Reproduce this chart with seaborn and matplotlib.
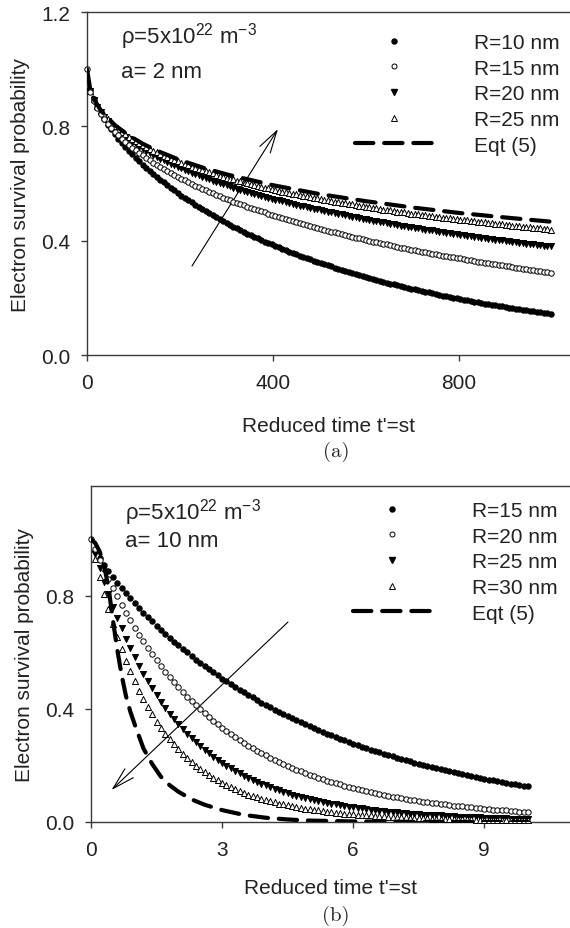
import numpy as np
import matplotlib
matplotlib.use("Agg")
import matplotlib.pyplot as plt
import seaborn as sns
from matplotlib.lines import Line2D

# ---------------- data : panel (a) ----------------
t_a = np.arange(134) * 7.5
R10_a = [1.0, 0.928, 0.895, 0.868, 0.846, 0.825, 0.806, 0.789, 0.773, 0.757,
         0.742, 0.728, 0.715, 0.702, 0.690, 0.678, 0.666, 0.655, 0.644, 0.634,
         0.623, 0.613, 0.604, 0.594, 0.585, 0.576, 0.567, 0.558, 0.550, 0.542,
         0.534, 0.526, 0.518, 0.511, 0.503, 0.496, 0.489, 0.482, 0.475, 0.469,
         0.462, 0.456, 0.449, 0.443, 0.437, 0.431, 0.425, 0.419, 0.414, 0.408,
         0.403, 0.397, 0.392, 0.387, 0.382, 0.377, 0.372, 0.367, 0.362, 0.357,
         0.353, 0.348, 0.343, 0.339, 0.335, 0.330, 0.326, 0.322, 0.318, 0.314,
         0.310, 0.306, 0.302, 0.298, 0.294, 0.291, 0.287, 0.283, 0.280, 0.276,
         0.273, 0.270, 0.266, 0.263, 0.260, 0.256, 0.253, 0.250, 0.247, 0.244,
         0.241, 0.238, 0.235, 0.232, 0.230, 0.227, 0.224, 0.221, 0.219, 0.216,
         0.213, 0.211, 0.208, 0.206, 0.203, 0.201, 0.198, 0.196, 0.194, 0.191,
         0.189, 0.187, 0.185, 0.182, 0.180, 0.178, 0.176, 0.174, 0.172, 0.170,
         0.168, 0.166, 0.164, 0.162, 0.160, 0.158, 0.156, 0.155, 0.153, 0.151,
         0.149, 0.147, 0.146, 0.144]
R15_a = [1.0, 0.920, 0.888, 0.864, 0.843, 0.825, 0.809, 0.795, 0.781, 0.769,
         0.757, 0.746, 0.735, 0.725, 0.716, 0.706, 0.698, 0.689, 0.681, 0.673,
         0.665, 0.658, 0.651, 0.644, 0.637, 0.630, 0.624, 0.617, 0.611, 0.605,
         0.599, 0.593, 0.588, 0.582, 0.577, 0.572, 0.566, 0.561, 0.556, 0.551,
         0.547, 0.542, 0.537, 0.533, 0.528, 0.524, 0.519, 0.515, 0.511, 0.507,
         0.503, 0.499, 0.495, 0.491, 0.487, 0.483, 0.479, 0.476, 0.472, 0.468,
         0.465, 0.461, 0.458, 0.455, 0.451, 0.448, 0.445, 0.441, 0.438, 0.435,
         0.432, 0.429, 0.426, 0.423, 0.420, 0.417, 0.414, 0.411, 0.408, 0.405,
         0.403, 0.400, 0.397, 0.395, 0.392, 0.389, 0.387, 0.384, 0.382, 0.379,
         0.376, 0.374, 0.372, 0.369, 0.367, 0.364, 0.362, 0.360, 0.357, 0.355,
         0.353, 0.351, 0.348, 0.346, 0.344, 0.342, 0.340, 0.338, 0.335, 0.333,
         0.331, 0.329, 0.327, 0.325, 0.323, 0.321, 0.319, 0.317, 0.315, 0.314,
         0.312, 0.310, 0.308, 0.306, 0.304, 0.302, 0.301, 0.299, 0.297, 0.295,
         0.294, 0.292, 0.290, 0.288]
R20_a = [1.0, 0.922, 0.892, 0.869, 0.850, 0.834, 0.819, 0.806, 0.794, 0.783,
         0.773, 0.763, 0.754, 0.745, 0.737, 0.729, 0.721, 0.714, 0.707, 0.700,
         0.693, 0.687, 0.681, 0.675, 0.669, 0.663, 0.658, 0.653, 0.647, 0.642,
         0.637, 0.633, 0.628, 0.623, 0.619, 0.614, 0.610, 0.606, 0.602, 0.598,
         0.594, 0.590, 0.586, 0.582, 0.578, 0.575, 0.571, 0.568, 0.564, 0.561,
         0.557, 0.554, 0.551, 0.547, 0.544, 0.541, 0.538, 0.535, 0.532, 0.529,
         0.526, 0.523, 0.520, 0.518, 0.515, 0.512, 0.510, 0.507, 0.504, 0.502,
         0.499, 0.497, 0.494, 0.492, 0.489, 0.487, 0.484, 0.482, 0.480, 0.477,
         0.475, 0.473, 0.470, 0.468, 0.466, 0.464, 0.462, 0.460, 0.457, 0.455,
         0.453, 0.451, 0.449, 0.447, 0.445, 0.443, 0.441, 0.439, 0.437, 0.436,
         0.434, 0.432, 0.430, 0.428, 0.426, 0.424, 0.423, 0.421, 0.419, 0.417,
         0.416, 0.414, 0.412, 0.411, 0.409, 0.407, 0.406, 0.404, 0.402, 0.401,
         0.399, 0.398, 0.396, 0.394, 0.393, 0.391, 0.390, 0.388, 0.387, 0.385,
         0.384, 0.382, 0.381, 0.380]
R25_a = [1.0, 0.923, 0.894, 0.872, 0.854, 0.838, 0.825, 0.813, 0.801, 0.791,
         0.781, 0.772, 0.764, 0.756, 0.748, 0.741, 0.734, 0.727, 0.721, 0.715,
         0.709, 0.703, 0.697, 0.692, 0.687, 0.682, 0.677, 0.672, 0.668, 0.663,
         0.659, 0.655, 0.650, 0.646, 0.642, 0.639, 0.635, 0.631, 0.627, 0.624,
         0.620, 0.617, 0.614, 0.610, 0.607, 0.604, 0.601, 0.598, 0.595, 0.592,
         0.589, 0.586, 0.583, 0.580, 0.578, 0.575, 0.572, 0.570, 0.567, 0.565,
         0.562, 0.560, 0.557, 0.555, 0.553, 0.550, 0.548, 0.546, 0.543, 0.541,
         0.539, 0.537, 0.535, 0.533, 0.531, 0.529, 0.527, 0.525, 0.523, 0.521,
         0.519, 0.517, 0.515, 0.513, 0.511, 0.509, 0.508, 0.506, 0.504, 0.502,
         0.501, 0.499, 0.497, 0.495, 0.494, 0.492, 0.491, 0.489, 0.487, 0.486,
         0.484, 0.483, 0.481, 0.480, 0.478, 0.477, 0.475, 0.474, 0.472, 0.471,
         0.469, 0.468, 0.466, 0.465, 0.464, 0.462, 0.461, 0.460, 0.458, 0.457,
         0.456, 0.454, 0.453, 0.452, 0.450, 0.449, 0.448, 0.447, 0.445, 0.444,
         0.443, 0.442, 0.441, 0.439]
tE_a = [0, 7.5, 15, 30, 60, 90, 120, 150, 200, 250, 300, 400, 500, 600, 700, 800, 900, 1000]
E_a = [1.0, 0.924, 0.895, 0.855, 0.804, 0.768, 0.739, 0.715, 0.682, 0.655,
       0.632, 0.594, 0.563, 0.538, 0.516, 0.497, 0.481, 0.466]
labels_a = ["R=10 nm", "R=15 nm", "R=20 nm", "R=25 nm", "Eqt (5)"]
xticks_a = [0, 400, 800]
yticks_a = [0.0, 0.4, 0.8, 1.2]
yticklabels_a = ["0.0", "0.4", "0.8", "1.2"]

# ---------------- data : panel (b) ----------------
t_b = np.arange(101) * 0.1
R15_b = [1.0, 0.959, 0.933, 0.909, 0.887, 0.866, 0.846, 0.827, 0.809, 0.791,
         0.773, 0.757, 0.740, 0.724, 0.709, 0.694, 0.679, 0.665, 0.651, 0.637,
         0.624, 0.611, 0.599, 0.586, 0.574, 0.562, 0.551, 0.540, 0.529, 0.518,
         0.507, 0.497, 0.487, 0.477, 0.467, 0.458, 0.449, 0.440, 0.431, 0.422,
         0.414, 0.406, 0.397, 0.389, 0.382, 0.374, 0.367, 0.359, 0.352, 0.345,
         0.338, 0.332, 0.325, 0.319, 0.312, 0.306, 0.300, 0.294, 0.288, 0.283,
         0.277, 0.272, 0.266, 0.261, 0.256, 0.251, 0.246, 0.241, 0.236, 0.232,
         0.227, 0.223, 0.218, 0.214, 0.210, 0.206, 0.202, 0.198, 0.194, 0.190,
         0.186, 0.183, 0.179, 0.176, 0.172, 0.169, 0.166, 0.162, 0.159, 0.156,
         0.153, 0.150, 0.147, 0.144, 0.142, 0.139, 0.136, 0.134, 0.131, 0.128,
         0.126]
R20_b = [1.0, 0.963, 0.927, 0.893, 0.860, 0.828, 0.797, 0.768, 0.740, 0.713,
         0.687, 0.662, 0.638, 0.615, 0.593, 0.571, 0.551, 0.531, 0.512, 0.494,
         0.476, 0.459, 0.443, 0.427, 0.412, 0.398, 0.384, 0.370, 0.357, 0.345,
         0.333, 0.322, 0.310, 0.300, 0.289, 0.279, 0.270, 0.261, 0.252, 0.243,
         0.235, 0.227, 0.219, 0.212, 0.205, 0.198, 0.192, 0.185, 0.179, 0.173,
         0.167, 0.162, 0.157, 0.151, 0.146, 0.142, 0.137, 0.133, 0.128, 0.124,
         0.120, 0.116, 0.113, 0.109, 0.106, 0.102, 0.099, 0.096, 0.093, 0.090,
         0.087, 0.084, 0.082, 0.079, 0.077, 0.075, 0.072, 0.070, 0.068, 0.066,
         0.064, 0.062, 0.060, 0.058, 0.056, 0.055, 0.053, 0.052, 0.050, 0.049,
         0.047, 0.046, 0.044, 0.043, 0.042, 0.041, 0.039, 0.038, 0.037, 0.036,
         0.035]
R25_b = [1.0, 0.947, 0.896, 0.849, 0.804, 0.761, 0.721, 0.684, 0.648, 0.614,
         0.582, 0.552, 0.524, 0.497, 0.472, 0.448, 0.425, 0.404, 0.383, 0.364,
         0.346, 0.329, 0.312, 0.297, 0.282, 0.268, 0.255, 0.243, 0.231, 0.220,
         0.209, 0.199, 0.190, 0.181, 0.172, 0.164, 0.156, 0.149, 0.142, 0.135,
         0.129, 0.123, 0.117, 0.112, 0.107, 0.102, 0.097, 0.093, 0.089, 0.085,
         0.081, 0.077, 0.074, 0.071, 0.068, 0.065, 0.062, 0.059, 0.057, 0.054,
         0.052, 0.050, 0.048, 0.046, 0.044, 0.042, 0.040, 0.038, 0.037, 0.035,
         0.034, 0.033, 0.031, 0.030, 0.029, 0.028, 0.026, 0.025, 0.024, 0.023,
         0.023, 0.022, 0.021, 0.020, 0.019, 0.019, 0.018, 0.017, 0.017, 0.016,
         0.015, 0.015, 0.014, 0.014, 0.013, 0.013, 0.012, 0.012, 0.011, 0.011,
         0.011]
R30_b = [1.0, 0.931, 0.867, 0.807, 0.752, 0.701, 0.654, 0.610, 0.569, 0.532,
         0.497, 0.464, 0.434, 0.406, 0.380, 0.355, 0.333, 0.312, 0.292, 0.274,
         0.257, 0.241, 0.226, 0.212, 0.199, 0.187, 0.176, 0.166, 0.156, 0.147,
         0.138, 0.130, 0.123, 0.116, 0.109, 0.103, 0.097, 0.092, 0.087, 0.082,
         0.077, 0.073, 0.069, 0.065, 0.062, 0.059, 0.056, 0.053, 0.050, 0.047,
         0.045, 0.043, 0.041, 0.039, 0.037, 0.035, 0.033, 0.032, 0.030, 0.029,
         0.027, 0.026, 0.025, 0.024, 0.023, 0.022, 0.021, 0.020, 0.019, 0.018,
         0.017, 0.017, 0.016, 0.015, 0.015, 0.014, 0.013, 0.013, 0.012, 0.012,
         0.011, 0.011, 0.010, 0.010, 0.010, 0.009, 0.009, 0.009, 0.008, 0.008,
         0.008, 0.007, 0.007, 0.007, 0.007, 0.007, 0.006, 0.006, 0.006, 0.006,
         0.006]
tE_b = [0, 0.1, 0.2, 0.3, 0.4, 0.5, 0.6, 0.7, 0.8, 0.9, 1.0, 1.2, 1.4, 1.6, 1.8,
        2.0, 2.3, 2.6, 3.0, 3.5, 4.0, 4.5, 5.0, 6.0, 7.0, 8.0, 9.0, 10.0]
E_b = [1.0, 0.985, 0.955, 0.905, 0.83, 0.715, 0.61, 0.52, 0.445, 0.39, 0.345,
       0.26, 0.205, 0.16, 0.13, 0.107, 0.08, 0.061, 0.042, 0.025, 0.015, 0.009,
       0.005, 0.002, 0.001, 0.0, 0.0, 0.0]
labels_b = ["R=15 nm", "R=20 nm", "R=25 nm", "R=30 nm", "Eqt (5)"]
xticks_b = [0, 3, 6, 9]
yticks_b = [0.0, 0.4, 0.8]
yticklabels_b = ["0.0", "0.4", "0.8"]

# ---------------- style ----------------
sns.set_theme(style="ticks")
plt.rcParams["font.family"] = ["Liberation Sans", "DejaVu Sans"]
plt.rcParams["mathtext.fontset"] = "custom"
plt.rcParams["mathtext.rm"] = "Liberation Sans"
plt.rcParams["mathtext.it"] = "Liberation Sans:italic"
plt.rcParams["mathtext.bf"] = "Liberation Sans:bold"

W, H = 570, 929
FS = 15
SPINE = "#3a3a3a"
TXT = "#222222"
fig = plt.figure(figsize=(W / 100, H / 100), dpi=100)


def fx(x):
    return x / W


def fy(y):
    return 1 - y / H


ax1 = fig.add_axes([fx(87), fy(356), (W - 87) / W, (356 - 13) / H])
ax2 = fig.add_axes([fx(91), fy(823), (W - 91) / W, (823 - 487) / H])

DASH = (0, (4.4, 2.6))
LW_DASH = 3.0


def markers(ax, t, ys, styles, first_full):
    for i, (y, (m, filled)) in enumerate(zip(ys, styles)):
        tt = np.asarray(t)
        yy = np.asarray(y)
        if i != first_full:
            tt, yy = tt[1:], yy[1:]
        kw = dict(marker=m, s=15 if m == "o" else 19, linewidth=0.7,
                  edgecolor="black", clip_on=False, legend=False,
                  zorder=3 + (i == first_full))
        sns.scatterplot(x=tt, y=yy, ax=ax, color="black" if filled else "white", **kw)


styles = [("o", True), ("o", False), ("v", True), ("^", False)]
markers(ax1, t_a, [R10_a, R15_a, R20_a, R25_a], styles, 1)
sns.lineplot(x=tE_a, y=E_a, ax=ax1, color="black", linewidth=LW_DASH,
             linestyle=DASH, dash_capstyle="round", legend=False, zorder=5)
markers(ax2, t_b, [R15_b, R20_b, R25_b, R30_b], styles, 1)
sns.lineplot(x=tE_b, y=E_b, ax=ax2, color="black", linewidth=LW_DASH,
             linestyle=DASH, dash_capstyle="round", legend=False, zorder=5)

ax1.set_xlim(0, (W - 87) / 0.465)
ax1.set_ylim(0, 1.2)
ax1.set_xticks(xticks_a)
ax1.set_yticks(yticks_a)
ax1.set_yticklabels(yticklabels_a)
ax2.set_xlim(0, (W - 91) / 43.7)
ax2.set_ylim(0, (823 - 487) / 283)
ax2.set_xticks(xticks_b)
ax2.set_yticks(yticks_b)
ax2.set_yticklabels(yticklabels_b)

for ax, lp in ((ax1, 17), (ax2, 14)):
    ax.spines["right"].set_visible(False)
    for s in ("left", "bottom", "top"):
        ax.spines[s].set_color(SPINE)
        ax.spines[s].set_linewidth(1.0)
    ax.tick_params(axis="both", direction="out", length=4, width=1.0,
                   color=SPINE, labelsize=FS, labelcolor=TXT)
    ax.tick_params(axis="y", pad=8)
    ax.tick_params(axis="x", pad=9)
    ax.set_xlabel("Reduced time t'=st", fontsize=FS, color=TXT, labelpad=lp)
    ax.set_ylabel("Electron survival probability", fontsize=FS, color=TXT, labelpad=8)


def legend(ax, labels, x0, y0):
    hs = [Line2D([], [], marker="o", ls="none", color="black", ms=3.6),
          Line2D([], [], marker="o", ls="none", mfc="white", mec="black", mew=0.7, ms=3.6),
          Line2D([], [], marker="v", ls="none", color="black", ms=4.0),
          Line2D([], [], marker="^", ls="none", mfc="white", mec="black", mew=0.7, ms=4.0),
          Line2D([], [], color="black", lw=LW_DASH, ls=DASH, dash_capstyle="round")]
    ax.legend(hs, labels, loc="upper left", bbox_to_anchor=(fx(x0), fy(y0)),
              bbox_transform=fig.transFigure, frameon=False, fontsize=FS,
              handlelength=3.74, handletextpad=1.95, labelspacing=0.32,
              borderpad=0, borderaxespad=0, labelcolor=TXT)


legend(ax1, labels_a, 355, 34)
legend(ax2, labels_b, 353, 502)

# annotations
AFS = 16
fig.text(fx(121), fy(43), "ρ=5x10$^{22}$ m$^{-3}$", fontsize=AFS, va="baseline", color=TXT)
fig.text(fx(121), fy(78), "a= 2 nm", fontsize=AFS, va="baseline", color=TXT)
fig.text(fx(125), fy(520), "ρ=5x10$^{22}$ m$^{-3}$", fontsize=AFS, va="baseline", color=TXT)
fig.text(fx(125), fy(547), "a= 10 nm", fontsize=AFS, va="baseline", color=TXT)

arrow = dict(arrowstyle="->,head_length=0.8,head_width=0.22", lw=0.8, color="black",
             mutation_scale=20, shrinkA=0, shrinkB=0)
ax1.annotate("", xy=(fx(278), fy(130)), xytext=(fx(192), fy(267)),
             xycoords="figure fraction", textcoords="figure fraction", arrowprops=arrow)
ax2.annotate("", xy=(fx(111.5), fy(791)), xytext=(fx(288), fy(623)),
             xycoords="figure fraction", textcoords="figure fraction", arrowprops=arrow)

fig.text(fx(336), fy(452), "(a)", fontfamily="cmr10", fontsize=FS, ha="center", va="center")
fig.text(fx(336), fy(916), "(b)", fontfamily="cmr10", fontsize=FS, ha="center", va="center")

fig.savefig("out.png", dpi=100)
